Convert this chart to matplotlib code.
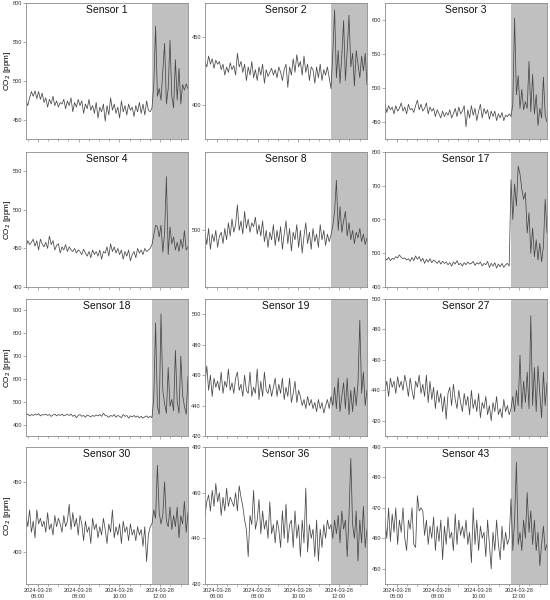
"""
CO2 traces for twelve sensors, shaded period at the end of the morning.
"""
import numpy as np
import pandas as pd
import matplotlib
matplotlib.use("Agg")
from matplotlib import pyplot as plt
import matplotlib.dates as mdates

plt.rcParams["font.family"] = ["Liberation Sans", "DejaVu Sans"]

sensor_names = ["Sensor 1", "Sensor 2", "Sensor 3", "Sensor 4", "Sensor 8",
                "Sensor 17", "Sensor 18", "Sensor 19", "Sensor 27",
                "Sensor 30", "Sensor 36", "Sensor 43"]

t_start = "2024-03-28 05:25"
t_end = "2024-03-28 13:22"
shade_start = "2024-03-28 11:37"

# 70 readings before the shaded period, 21 inside it
s1 = [474, 468, 478, 486, 480, 487, 477, 486, 476, 484,
      472, 478, 466, 476, 470, 480, 468, 474, 466, 472,
      470, 476, 464, 474, 468, 478, 460, 472, 466, 476,
      468, 474, 458, 470, 464, 476, 462, 468, 458, 472,
      452, 466, 460, 470, 448, 468, 456, 478, 462, 470,
      458, 466, 452, 474, 460, 468, 456, 470, 462, 466,
      454, 468, 460, 472, 458, 470, 456, 474, 462, 460,
      465, 495, 570, 480, 490, 475, 512, 548, 470, 490,
      552, 480, 465, 527, 475, 516, 470, 495, 488, 496, 490]
s2 = [432, 428, 436, 430, 434, 427, 433, 430, 432, 426,
      430, 422, 428, 424, 431, 426, 429, 422, 438, 428,
      432, 424, 430, 418, 428, 422, 432, 420, 426, 418,
      428, 422, 430, 416, 426, 421, 424, 427, 422, 426,
      420, 428, 424, 418, 426, 430, 413, 428, 422, 434,
      424, 437, 428, 432, 422, 436, 424, 430, 418, 428,
      426, 416, 428, 420, 430, 418, 426, 422, 428, 420,
      412, 438, 470, 420, 440, 416, 436, 462, 418, 440,
      466, 428, 438, 414, 440, 430, 420, 436, 425, 438, 415]
s3 = [476, 464, 474, 468, 472, 462, 474, 466, 470, 478,
      466, 472, 462, 476, 468, 470, 464, 474, 482, 468,
      476, 466, 470, 478, 462, 472, 466, 470, 458, 468,
      462, 456, 466, 458, 464, 460, 468, 456, 462, 470,
      458, 472, 462, 466, 474, 443, 468, 456, 474, 460,
      470, 452, 466, 476, 456, 470, 462, 468, 454, 466,
      458, 466, 452, 462, 456, 464, 452, 460, 458, 462,
      458, 476, 603, 490, 518, 470, 498, 468, 480, 470,
      539, 465, 520, 462, 490, 445, 470, 456, 516, 460, 450]
s4 = [452, 460, 455, 458, 462, 453, 460, 448, 462, 456,
      452, 458, 450, 466, 455, 460, 448, 454, 456, 444,
      452, 448, 455, 446, 452, 448, 446, 450, 444, 448,
      446, 442, 449, 444, 440, 446, 438, 448, 442, 446,
      440, 448, 436, 446, 444, 452, 440, 456, 446, 452,
      444, 450, 442, 448, 436, 446, 440, 448, 434, 442,
      446, 438, 450, 444, 448, 442, 450, 446, 448, 450,
      455, 468, 480, 478, 465, 480, 445, 470, 543, 442,
      478, 456, 465, 448, 458, 446, 462, 450, 473, 448, 452]
s8 = [498, 485, 502, 480, 496, 488, 500, 482, 494, 498,
      486, 502, 490, 508, 494, 512, 498, 506, 527, 500,
      510, 496, 520, 502, 512, 498, 508, 504, 514, 496,
      506, 494, 510, 488, 500, 482, 498, 490, 506, 484,
      500, 488, 504, 480, 496, 510, 486, 502, 478, 498,
      490, 506, 482, 500, 476, 494, 508, 486, 498, 480,
      502, 488, 496, 482, 506, 490, 500, 484, 496, 488,
      495, 505, 520, 553, 500, 525, 498, 510, 520, 494,
      508, 490, 500, 486, 498, 492, 502, 488, 496, 485, 492]
s17 = [485, 480, 488, 478, 485, 482, 490, 486, 495, 488,
       484, 486, 480, 484, 476, 488, 478, 492, 482, 490,
       476, 485, 470, 482, 474, 484, 472, 480, 476, 470,
       478, 468, 476, 470, 474, 466, 472, 462, 474, 468,
       478, 466, 470, 462, 472, 466, 474, 468, 470, 476,
       464, 472, 468, 474, 462, 470, 466, 476, 458, 470,
       462, 472, 456, 468, 460, 470, 458, 466, 470, 462,
       718, 600, 705, 640, 758, 735, 690, 660, 680, 560,
       620, 500, 575, 490, 540, 480, 530, 475, 520, 660, 560]
s18 = [442, 446, 438, 444, 440, 446, 442, 448, 438, 444,
       442, 446, 440, 444, 436, 442, 446, 438, 444, 440,
       446, 438, 442, 444, 440, 446, 436, 442, 430, 440,
       444, 436, 440, 432, 442, 438, 434, 440, 436, 442,
       438, 444, 436, 450, 440, 438, 432, 440, 436, 444,
       432, 440, 436, 430, 444, 436, 440, 428, 438, 434,
       440, 432, 438, 430, 436, 428, 434, 438, 430, 436,
       430, 520, 845, 480, 445, 885, 550, 490, 450, 650,
       480, 510, 460, 725, 500, 450, 700, 530, 480, 445, 610]
s19 = [455, 466, 450, 460, 446, 458, 452, 456, 450, 462,
       448, 456, 452, 464, 450, 455, 448, 458, 462, 450,
       454, 446, 460, 450, 448, 462, 446, 452, 448, 464,
       444, 456, 446, 462, 450, 448, 454, 446, 452, 458,
       446, 454, 448, 458, 444, 452, 446, 458, 442, 448,
       456, 442, 450, 446, 440, 444, 438, 446, 440, 444,
       438, 442, 436, 444, 438, 442, 435, 440, 444, 438,
       446, 440, 452, 438, 458, 436, 446, 455, 438, 458,
       434, 450, 436, 452, 440, 455, 496, 448, 462, 440, 450]
s27 = [440, 446, 436, 448, 442, 446, 438, 449, 442, 446,
       440, 450, 444, 436, 448, 440, 434, 446, 442, 450,
       438, 444, 436, 450, 432, 446, 434, 442, 428, 440,
       432, 438, 426, 436, 421, 438, 442, 430, 444, 434,
       428, 440, 432, 426, 438, 430, 436, 424, 440, 428,
       434, 426, 438, 422, 432, 428, 436, 424, 430, 420,
       432, 426, 436, 424, 428, 422, 434, 426, 430, 424,
       428, 436, 426, 440, 430, 463, 428, 446, 432, 452,
       428, 489, 430, 455, 426, 456, 438, 422, 452, 430, 445]
s30 = [426, 418, 430, 414, 422, 410, 430, 420, 424, 418,
       422, 414, 428, 416, 420, 412, 426, 418, 424, 420,
       414, 426, 418, 422, 434, 416, 428, 418, 424, 412,
       426, 420, 408, 422, 414, 418, 406, 424, 416, 420,
       410, 418, 412, 424, 416, 406, 420, 414, 430, 410,
       418, 412, 420, 406, 422, 414, 418, 408, 420, 412,
       416, 408, 418, 412, 416, 404, 418, 393, 412, 418,
       420, 430, 424, 462, 428, 420, 426, 450, 422, 418,
       432, 416, 426, 418, 432, 410, 426, 420, 436, 414, 428]
s36 = [450, 456, 459, 452, 461, 454, 464, 456, 460, 450,
       458, 452, 462, 454, 458, 456, 454, 460, 452, 463,
       458, 454, 448, 444, 432, 450, 446, 461, 444, 448,
       457, 442, 452, 444, 448, 440, 456, 442, 446, 438,
       448, 444, 436, 452, 440, 455, 438, 446, 448, 436,
       452, 440, 446, 432, 448, 438, 462, 434, 446, 440,
       444, 432, 448, 430, 444, 436, 446, 440, 448, 444,
       446, 440, 448, 442, 450, 438, 452, 444, 448, 432,
       450, 475, 446, 440, 452, 430, 448, 438, 454, 436, 444]
s43 = [466, 460, 470, 459, 468, 462, 470, 458, 466, 462,
       470, 460, 456, 466, 463, 470, 458, 457, 474, 469,
       470, 469, 461, 466, 458, 464, 460, 467, 456, 464,
       459, 466, 453, 464, 458, 467, 460, 462, 456, 468,
       458, 466, 461, 464, 460, 466, 458, 462, 452, 470,
       458, 466, 456, 464, 460, 462, 454, 466, 458, 450,
       462, 456, 466, 458, 453, 464, 456, 462, 458, 460,
       473, 456, 466, 485, 458, 462, 456, 466, 460, 475,
       462, 469, 458, 466, 456, 462, 451, 458, 464, 456, 458]

series = [s1, s2, s3, s4, s8, s17, s18, s19, s27, s30, s36, s43]

y_limits = [(425, 600), (375, 475), (425, 625), (400, 575), (440, 583),
            (400, 800), (350, 950), (420, 510), (410, 500), (377, 475),
            (420, 480), (445, 490)]
y_ticks = [[450, 500, 550, 600], [400, 450], [450, 500, 550, 600],
           [400, 450, 500, 550], [500], [400, 500, 600, 700, 800],
           [400, 500, 600, 700, 800, 900], [420, 440, 460, 480, 500],
           [420, 440, 460, 480, 500], [400, 450], [420, 440, 460, 480],
           [450, 460, 470, 480, 490]]


def _axes_rect(row, col):
    # pixel positions measured on the 550x600 reference
    lefts = [26, 205, 385]
    tops = [3, 152, 299, 447]
    bottoms = [139, 287, 436, 584]
    width = 162
    x0 = lefts[col] / 550
    y0 = 1 - bottoms[row] / 600
    return [x0, y0, width / 550, (bottoms[row] - tops[row]) / 600]


def main():
    fig = plt.figure(figsize=(5.5, 6.0), dpi=100)
    x_min = pd.Timestamp(t_start)
    x_max = pd.Timestamp(t_end)
    spine_col = "#8a8a8a"

    for i, (name, vals) in enumerate(zip(sensor_names, series)):
        row, col = divmod(i, 3)
        axs = fig.add_axes(_axes_rect(row, col))
        times = pd.date_range(t_start, t_end, periods=len(vals))

        axs.axvspan(pd.Timestamp(shade_start), x_max, color="#c0c0c0",
                    lw=0, zorder=0)
        axs.plot(times, vals, color="#484848", lw=0.55, zorder=2)

        axs.set_xlim(x_min, x_max)
        axs.set_ylim(*y_limits[i])
        axs.set_yticks(y_ticks[i])

        axs.xaxis.set_major_locator(mdates.HourLocator(byhour=[6, 8, 10, 12]))
        axs.xaxis.set_minor_locator(mdates.MinuteLocator(byminute=[0, 30]))
        axs.xaxis.set_major_formatter(mdates.DateFormatter("%Y-%m-%d\n%H:%M"))
        if row < 3:
            axs.tick_params(axis="x", labelbottom=False)

        axs.tick_params(which="both", direction="out", color=spine_col,
                        width=0.5, labelsize=4.1, labelcolor="#333333", pad=1.0)
        axs.tick_params(which="major", length=2.0)
        axs.tick_params(which="minor", length=1.5)
        for sp in axs.spines.values():
            sp.set_color(spine_col)
            sp.set_linewidth(0.6)

        axs.text(0.5, 0.985, name, transform=axs.transAxes, ha="center",
                 va="top", fontsize=7.5, color="#111111")
        if col == 0:
            axs.set_ylabel("CO$_2$ [ppm]", fontsize=5.9)
            axs.yaxis.set_label_coords(-0.083, 0.5)

    plt.savefig("out.png", dpi=100)
    plt.close()


if __name__ == "__main__":
    main()
